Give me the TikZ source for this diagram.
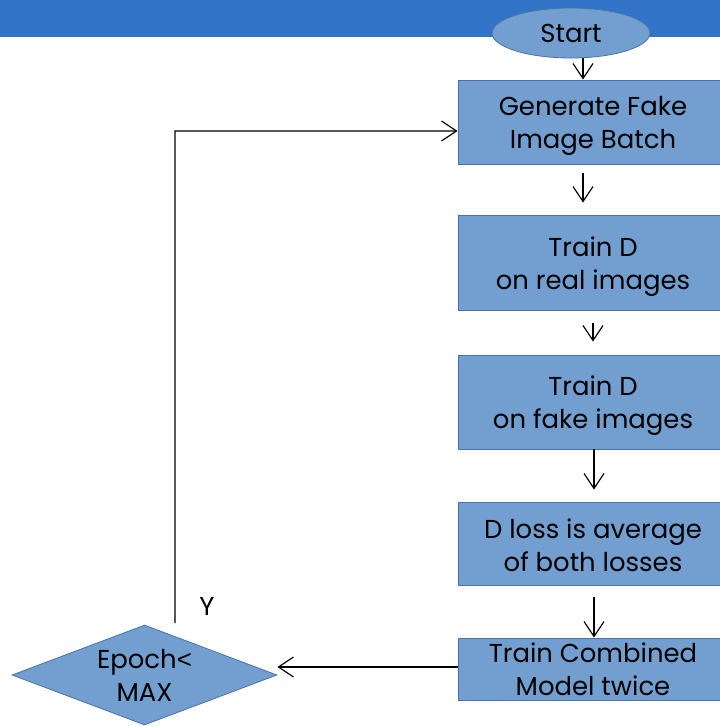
\documentclass[tikz,border=0pt]{standalone}
\usepackage{fontspec}
\setmainfont{Poppins}
\newfontfamily\altsans{Liberation Sans}
\usetikzlibrary{shapes.geometric,arrows.meta}
\definecolor{topbar}{RGB}{50,116,199}
\definecolor{boxfill}{RGB}{114,159,207}
\definecolor{boxline}{RGB}{72,114,172}
\tikzset{
  x=1bp,y=-1bp,
  txt/.style={font=\fontsize{26}{33}\selectfont,align=center,text=black},
  stepbox/.style={txt,draw=boxline,fill=boxfill,line width=0.8bp,minimum width=270bp,inner sep=0pt},
  arr/.style={draw=black,line width=1.2bp,-{Straight Barb[length=15bp,width=20bp,line width=1.2bp]}},
}
\begin{document}
\begin{tikzpicture}
\useasboundingbox (0,0) rectangle (720,726);
\clip (0,0) rectangle (720,726);
\fill[topbar] (0,0) rectangle (720,37);
\node[ellipse,txt,draw=boxline,fill=boxfill,line width=0.8bp,minimum width=158bp,minimum height=50bp,inner sep=0pt] (start) at (571,33) {Start};
\node[stepbox,minimum height=84bp,label={[txt,yshift=-4bp]center:{Generate Fake\\Image Batch}}] (b1) at (593,122) {};
\node[stepbox,minimum height=95bp,label={[txt,yshift=-4bp]center:{Train D\\on real images}}] (b2) at (593,262.5) {};
\node[stepbox,minimum height=94bp,label={[txt,yshift=-4bp]center:{Train D\\on fake images}}] (b3) at (593,402) {};
\node[stepbox,minimum height=83bp,label={[txt,yshift=-2bp]center:{D loss is average\\of both losses}}] (b4) at (593,543.5) {};
\node[stepbox,minimum height=62bp] (b5) at (593,669) {Train Combined\\Model twice};
\node[diamond,shape aspect=2.65,txt,draw=boxline,fill=boxfill,line width=0.8bp,minimum width=265bp,minimum height=100bp,inner sep=0pt] (dec) at (144.5,675) {Epoch{\altsans <}\\MAX};
\node[txt] (ylab) at (207,606) {Y};
\coordinate (loopstart) at (175,623);
\draw[arr] ([xshift=-10bp]b1.north |- start.south) -- ([xshift=-10bp]b1.north);
\draw[arr,shorten <=9bp,shorten >=12bp] ([xshift=-10bp]b1.south) -- ([xshift=-10bp]b1.south |- b2.north);
\draw[arr,shorten <=13bp,shorten >=13bp] (b2.south) -- (b3.north);
\draw[arr,shorten >=12bp] ([xshift=1bp]b3.south) -- ([xshift=1bp]b3.south |- b4.north);
\draw[arr,shorten <=12bp] ([xshift=1bp]b4.south) -- ([xshift=1bp]b4.south |- b5.north);
\draw[arr] ([yshift=2bp]b5.west) -- ([yshift=2bp]b5.west -| dec.east);
\draw[arr] (loopstart) -- (loopstart |- 0,131) -- ([yshift=-9bp]b1.west);
\end{tikzpicture}
\end{document}
